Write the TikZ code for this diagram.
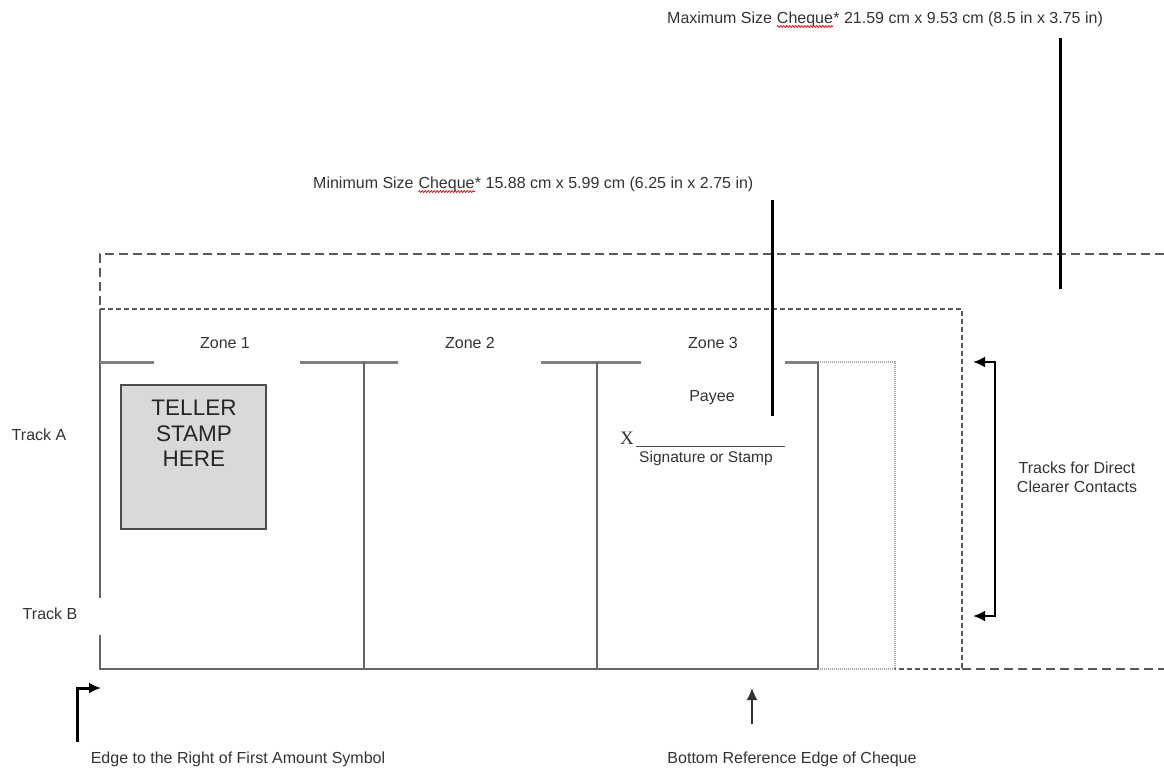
\documentclass[tikz,border=0pt]{standalone}
\usepackage{fontspec}
\setmainfont{Liberation Sans}
\newfontfamily\serifx{Liberation Serif}
\usetikzlibrary{arrows.meta,decorations.pathmorphing}
\begin{document}
\begin{tikzpicture}[x=1pt,y=-1pt,
  lbl/.style={font=\fontsize{16}{19}\selectfont, text=black!80, inner sep=0pt},
  bigl/.style={font=\fontsize{22.5}{25.5}\selectfont, text=black!85, inner sep=0pt, align=center},
  maxdash/.style={draw=black!65, line width=2pt, dash pattern=on 9pt off 5pt},
  mindash/.style={draw=black!65, line width=1.6pt, dash pattern=on 5pt off 3pt},
  dotl/.style={draw=black!35, line width=1.4pt, dash pattern=on 1pt off 1pt},
  edgel/.style={draw=black!60, line width=1.6pt},
  zonebar/.style={draw=black!50, line width=3pt},
  divider/.style={draw=black!60, line width=1.5pt},
  heavy/.style={draw=black, line width=3pt},
  squig/.style={draw=red!85!black, line width=0.7pt, decorate, decoration={snake, amplitude=1pt, segment length=3pt}},
  arr/.style={-{Latex[length=12pt,width=11pt]}}
]
\useasboundingbox (0,0) rectangle (1164,769);

% coordinates of the cheque outlines
\coordinate (maxTL) at (100,254);
\coordinate (maxTR) at (1164,254);
\coordinate (minTL) at (100,309);
\coordinate (minTR) at (962,309);
\coordinate (minBR) at (962,669);
\coordinate (maxBR) at (1164,669);
\coordinate (BL) at (100,669);
\coordinate (gapT) at (100,598);
\coordinate (gapB) at (100,635);
\coordinate (dotTL) at (818,362);
\coordinate (dotTR) at (895,362);
\coordinate (dotBR) at (895,669);
\coordinate (dotBL) at (818,669);

% maximum size outline
\draw[maxdash] (maxTR) -- (maxTL) -- (minTL);
\draw[maxdash] (minBR) -- (maxBR);
% minimum size outline
\draw[mindash] (minTL) -- (minTR) -- (minBR) -- (dotBR);
% left and bottom edges
\draw[edgel] (minTL) -- (gapT);
\draw[edgel] (gapB) -- (BL) -- (dotBL);
% dotted extension
\draw[dotl] (dotTL) -- (dotTR) -- (dotBR) -- (dotBL);

% zone bars
\draw[zonebar] (100,362) -- (154,362);
\draw[zonebar] (300,362) -- (398,362);
\draw[zonebar] (541,362) -- (641,362);
\draw[zonebar] (785,362) -- (818,362);
% dividers
\draw[divider] (364,362) -- (364,669);
\draw[divider] (597,362) -- (597,669);
\draw[divider] (dotTL) -- (dotBL);

% zone labels
\node[lbl] (z1) at (225,343) {Zone 1};
\node[lbl] (z2) at (470,343) {Zone 2};
\node[lbl] (z3) at (713,343) {Zone 3};

% teller stamp box
\node[draw=black!70, line width=1.3pt, fill=black!15, minimum width=145pt, minimum height=144pt, inner sep=0pt] (stampbox) at (193.5,457) {};
\node[bigl, anchor=north] (stamptext) at (194,400) {TELLER\\STAMP\\HERE};

% payee & signature
\node[lbl] (payee) at (712,398) {Payee};
\node[font=\serifx\fontsize{19}{22}\selectfont, text=black!80, inner sep=0pt, anchor=base] (xmark) at (627,444) {X};
\coordinate (sigL) at (636,446);
\coordinate (sigR) at (785,446);
\draw[draw=black!70, line width=1pt] (sigL) -- (sigR);
\node[font=\fontsize{15.5}{18}\selectfont, text=black!80, inner sep=0pt] (sig) at (706,458) {Signature or Stamp};

% tracks
\node[lbl] (trA) at (39,435) {Track A};
\node[lbl] (trB) at (50,614) {Track B};

% heavy pointer bars
\coordinate (minbarT) at (772,200);
\coordinate (minbarB) at (772,416);
\coordinate (maxbarT) at (1060,38);
\coordinate (maxbarB) at (1060,289);
\draw[heavy] (minbarT) -- (minbarB);
\draw[heavy] (maxbarT) -- (maxbarB);

% size captions
\node[lbl, anchor=base west] (max1) at (667,23) {Maximum Size\ \null};
\node[lbl, anchor=base west] (max2) at (max1.base east) {Cheque};
\node[lbl, anchor=base west] (max3) at (max2.base east) {* 21.59 cm x 9.53 cm (8.5 in x 3.75 in)};
\draw[squig] ([yshift=-3.5pt]max2.base west) -- ([yshift=-3.5pt]max2.base east);

\node[lbl, anchor=base west] (min1) at (313,188) {Minimum Size\ \null};
\node[lbl, anchor=base west] (min2) at (min1.base east) {Cheque};
\node[lbl, anchor=base west] (min3) at (min2.base east) {* 15.88 cm x 5.99 cm (6.25 in x 2.75 in)};
\draw[squig] ([yshift=-3.5pt]min2.base west) -- ([yshift=-3.5pt]min2.base east);

% track bracket
\coordinate (brTip1) at (973,362);
\coordinate (brT) at (995,362);
\coordinate (brB) at (995,616);
\coordinate (brTip2) at (973,616);
\draw[draw=black, line width=2.5pt, {Latex[length=12pt,width=11pt]}-{Latex[length=12pt,width=11pt]}] (brTip1) -- (brT) -- (brB) -- (brTip2);
\node[lbl, align=center] (tracks) at (1077,477) {Tracks for Direct\\Clearer Contacts};

% bottom arrows
\coordinate (edgeS) at (77,742);
\coordinate (edgeC) at (77,688);
\coordinate (edgeE) at (101,688);
\draw[draw=black, line width=3pt, arr] (edgeS) -- (edgeC) -- (edgeE);
\node[lbl] (edgetxt) at (238,759) {Edge to the Right of First Amount Symbol};

\coordinate (botS) at (752,724);
\coordinate (botE) at (752,688);
\draw[draw=black!80, line width=1.5pt, arr] (botS) -- (botE);
\node[lbl] (bottxt) at (792,759) {Bottom Reference Edge of Cheque};
\end{tikzpicture}
\end{document}
